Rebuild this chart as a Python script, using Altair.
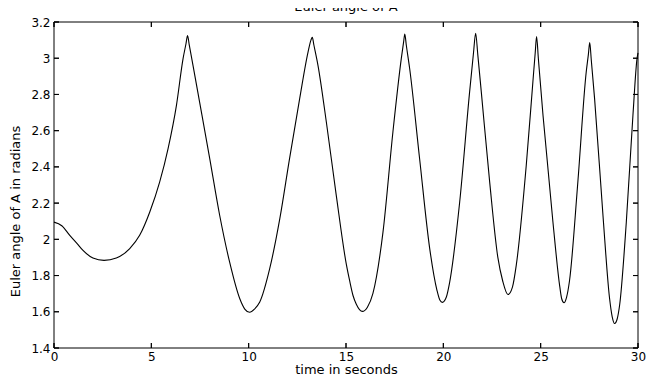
import altair as alt
import pandas as pd

# time (s) and Euler angle (rad)
t = [0.0, 0.4, 0.81, 1.2, 1.49, 2.0, 2.57, 3.2, 3.89, 4.4, 4.92, 5.43, 5.86, 6.29,
     6.63, 6.78, 6.86, 6.95, 7.14, 7.48, 8.0, 8.51, 9.02, 9.54, 9.8, 10.05, 10.3,
     10.57, 11.08, 11.6, 12.1, 12.62, 13.05, 13.2, 13.27, 13.35, 13.56, 13.99, 14.5,
     15.02, 15.19, 15.36, 15.53, 15.84, 16.1, 16.38, 16.9, 17.41, 17.84, 17.96, 18.02,
     18.1, 18.27, 18.78, 19.3, 19.67, 19.82, 19.95, 20.15, 20.32, 20.84, 21.35, 21.55,
     21.66, 21.77, 21.95, 22.38, 22.8, 23.05, 23.32, 23.55, 23.75, 24.26, 24.6, 24.72,
     24.79, 24.88, 25.12, 25.63, 25.98, 26.08, 26.2, 26.33, 26.48, 26.91, 27.34, 27.45,
     27.52, 27.6, 27.77, 28.2, 28.54, 28.67, 28.8, 28.93, 29.06, 29.4, 29.74, 29.95,
     30.0]
angle = [2.095, 2.075, 2.022, 1.975, 1.939, 1.897, 1.884, 1.897, 1.949, 2.022, 2.151,
         2.317, 2.501, 2.74, 2.998, 3.08, 3.125, 3.072, 2.961, 2.758, 2.446, 2.133,
         1.875, 1.673, 1.615, 1.597, 1.615, 1.654, 1.838, 2.114, 2.446, 2.777, 3.034,
         3.1, 3.115, 3.073, 2.961, 2.648, 2.243, 1.86, 1.77, 1.69, 1.642, 1.602, 1.625,
         1.70, 2.04, 2.593, 2.998, 3.09, 3.133, 3.07, 2.943, 2.446, 1.949, 1.72,
         1.665, 1.652, 1.68, 1.76, 2.206, 2.814, 3.03, 3.138, 3.02, 2.814, 2.317,
         1.90, 1.77, 1.695, 1.736, 1.86, 2.409, 2.869, 3.03, 3.12, 3.0, 2.685, 2.096,
         1.74, 1.672, 1.65, 1.68, 1.77, 2.317, 2.924, 3.02, 3.086, 2.99, 2.777, 2.133,
         1.673, 1.575, 1.535, 1.56, 1.64, 2.096, 2.685, 2.998, 3.03]
x_ticks = [0, 5, 10, 15, 20, 25, 30]
y_ticks = [1.4, 1.6, 1.8, 2.0, 2.2, 2.4, 2.6, 2.8, 3.0, 3.2]

df = pd.DataFrame({"t": t, "angle": angle})
xt = pd.DataFrame({"v": x_ticks})
yt = pd.DataFrame({"v": y_ticks})
FONT = "DejaVu Sans"
W, H, TL = 584, 326, 5

xs = alt.Scale(domain=[0, 30], nice=False, zero=False)
ys = alt.Scale(domain=[1.4, 3.2], nice=False, zero=False)

# curve + axis labels/titles
main = alt.Chart(df).mark_line(color="black", strokeWidth=1.1, interpolate="monotone").encode(
    x=alt.X("t:Q", scale=xs, axis=alt.Axis(
        orient="bottom", values=x_ticks, title="time in seconds",
        ticks=False, domain=False, grid=False, labelPadding=3, format="d",
        labelFlush=False, labelOverlap=False, titleY=25, titleBaseline="alphabetic")),
    y=alt.Y("angle:Q", scale=ys, axis=alt.Axis(
        orient="left", values=y_ticks, title="Euler angle of A in radians",
        ticks=False, domain=False, grid=False, labelPadding=4, format="~g",
        labelFlush=False, labelOverlap=False, titleX=-34.5, titleY=189,
        titleBaseline="alphabetic", titleAlign="center")),
)

# box around the plot
frame = alt.Chart(pd.DataFrame({"k": [0]})).mark_rect(
    stroke="black", strokeWidth=1, fillOpacity=0
).encode(x=alt.value(0), x2=alt.value(W), y=alt.value(0), y2=alt.value(H))

tick_style = dict(stroke="black", strokeWidth=1, fillOpacity=0)

# inward ticks on all four sides, positioned by the shared scales
xb = alt.Chart(xt).mark_rect(**tick_style).encode(
    x=alt.X("v:Q", scale=xs, axis=None), x2="v:Q", y=alt.value(H - TL), y2=alt.value(H))
xtop = alt.Chart(xt).mark_rect(**tick_style).encode(
    x=alt.X("v:Q", scale=xs, axis=None), x2="v:Q", y=alt.value(0), y2=alt.value(TL))
yl = alt.Chart(yt).mark_rect(**tick_style).encode(
    y=alt.Y("v:Q", scale=ys, axis=None), y2="v:Q", x=alt.value(0), x2=alt.value(TL))
yr = alt.Chart(yt).mark_rect(**tick_style).encode(
    y=alt.Y("v:Q", scale=ys, axis=None), y2="v:Q", x=alt.value(W - TL), x2=alt.value(W))

chart = alt.layer(main, frame, xb, xtop, yl, yr).resolve_axis(
    x="independent", y="independent"
).properties(
    width=W, height=H,
    autosize="none",
    background="white",
    padding={"left": 46, "top": 14, "right": 18, "bottom": 27},
    title=alt.TitleParams("Euler angle of A", font=FONT, fontSize=13,
                          fontWeight="normal", color="black", offset=2,
                          anchor="middle"),
).configure_view(
    strokeWidth=0
).configure_axis(
    labelFont=FONT, labelFontSize=12, labelColor="black",
    titleFont=FONT, titleFontSize=13, titleFontWeight="normal", titleColor="black"
)

chart.save("out.html", embed_options={"renderer": "svg", "actions": False})
